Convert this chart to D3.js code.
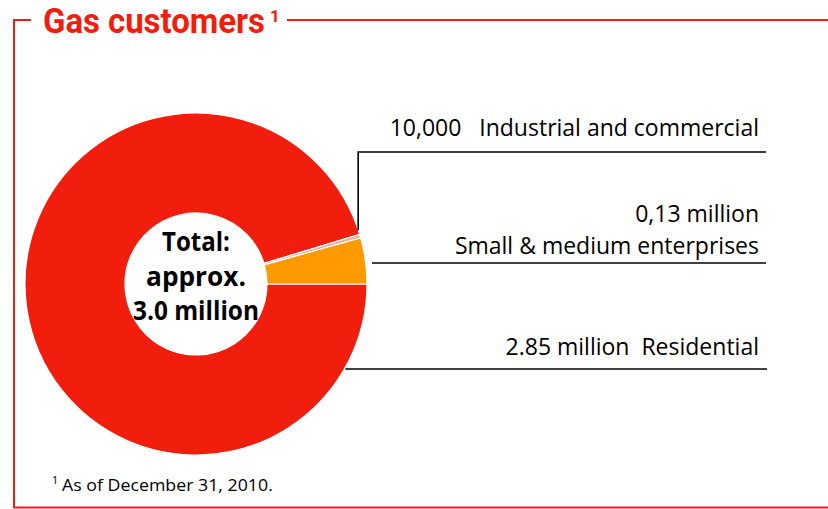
<!DOCTYPE html>
<html>
<head>
<meta charset="utf-8">
<script src="https://cdn.jsdelivr.net/npm/d3@7"></script>
<style>
  html, body { margin: 0; padding: 0; background: #fff; }
  svg { display: block; }
  text { white-space: pre; }
</style>
</head>
<body>
<svg id="chart" width="828" height="509"></svg>
<script>
// ---- data ----
const categories = ["Residential", "Industrial and commercial", "Small & medium enterprises"];
const values = [2.85, 0.01, 0.13];           // million customers
const valueLabels = ["2.85 million", "10,000", "0,13 million"];
const colors = ["#f11d0d", "#f8a892", "#ff9a00"];
const title = "Gas customers";
const centerLines = ["Total:", "approx.", "3.0 million"];
const footnote = "As of December 31, 2010.";

// ---- layout ----
const W = 828, H = 509;
const red = "#f11d0d";
const cx = 196, cy = 284, rOuter = 171, rInner = 71;
const svg = d3.select("#chart");

// fit a text horizontally to a given width by scaling (keeps bbox honest)
function fitWidth(sel, x, y, width, anchor) {
  const n = sel.node();
  const w0 = n.getComputedTextLength();
  const s = width / w0;
  sel.attr("x", 0).attr("y", 0)
    .attr("transform", `translate(${x},${y}) scale(${s},1)`);
  if (anchor) sel.attr("text-anchor", anchor);
}

// frame
svg.append("path")
  .attr("d", `M14,${H - 1} V20 H31 M287,20 H${W}`)
  .attr("fill", "none").attr("stroke", red).attr("stroke-width", 2);
svg.append("line").attr("x1", 14).attr("x2", W).attr("y1", H - 1.5).attr("y2", H - 1.5)
  .attr("stroke", red).attr("stroke-width", 2);

// title
const tt = svg.append("text")
  .attr("fill", red).attr("font-family", "Roboto, 'Open Sans', sans-serif")
  .attr("font-weight", 700).attr("font-size", 35).text(title);
fitWidth(tt, 43, 33, 222);
svg.append("text").attr("x", 270).attr("y", 22)
  .attr("fill", red).attr("font-family", "Roboto, 'Open Sans', sans-serif")
  .attr("font-weight", 700).attr("font-size", 17).text("1");

// donut
const pie = d3.pie().sort(null).value(d => d)
  .startAngle(Math.PI / 2).endAngle(Math.PI / 2 + 2 * Math.PI);
const arcs = pie(values);
const arc = d3.arc().innerRadius(rInner).outerRadius(rOuter);
const g = svg.append("g").attr("transform", `translate(${cx},${cy})`);
g.selectAll("path").data(arcs).join("path")
  .attr("d", arc)
  .attr("fill", (d, i) => colors[i])
  .attr("stroke", "#fff").attr("stroke-width", 1.2).attr("stroke-linejoin", "miter");

// center text
const ct = svg.append("g").attr("font-family", "'Open Sans', sans-serif")
  .attr("font-weight", 700).attr("font-size", 26).attr("fill", "#000").attr("text-anchor", "middle");
const centerY = [251, 286, 320];
const centerW = [68, 100, 126];
centerLines.forEach((s, i) => {
  const el = ct.append("text").text(s);
  fitWidth(el, cx, centerY[i], centerW[i]);
});

// leader lines
const lineEnd = 766;
const ang = d => (d.startAngle + d.endAngle) / 2;
const leader = svg.append("g").attr("fill", "none").attr("stroke", "#000").attr("stroke-width", 1.6);
// industrial: from arc edge straight up, then right
const dInd = arcs[1];
const pInd = [cx + rOuter * Math.sin(ang(dInd)) - 2, cy - rOuter * Math.cos(ang(dInd)) - 6];
leader.append("path").attr("d", `M${pInd[0]},${pInd[1]} V152 H${lineEnd}`);
// SME: horizontal line just outside the slice
const ySme = 263;
leader.append("path").attr("d", `M372,${ySme} H${lineEnd}`);
// residential: from circle edge at y
const yRes = 369;
const xRes = cx + Math.sqrt(rOuter * rOuter - (yRes - cy) * (yRes - cy)) + 1;
leader.append("path").attr("d", `M${xRes},${yRes} H${lineEnd + 1}`);

// labels
const lab = svg.append("g").attr("font-family", "'Open Sans', sans-serif")
  .attr("font-size", 23).attr("fill", "#000").attr("text-anchor", "end");
const labX = 759;
lab.append("text").attr("x", labX).attr("y", 136).text(valueLabels[1] + "   " + categories[1]);
lab.append("text").attr("x", labX).attr("y", 222).text(valueLabels[2]);
lab.append("text").attr("x", labX).attr("y", 254).text(categories[2]);
lab.append("text").attr("x", labX).attr("y", 355).text(valueLabels[0] + "  " + categories[0]);

// footnote
svg.append("text").attr("x", 52).attr("y", 484)
  .attr("font-family", "'Open Sans', sans-serif").attr("font-size", 11).attr("fill", "#000").text("1");
const fn = svg.append("text")
  .attr("font-family", "'Open Sans', sans-serif").attr("font-size", 17).attr("fill", "#000").text(footnote);
fitWidth(fn, 62, 491, 211);
</script>
</body>
</html>
